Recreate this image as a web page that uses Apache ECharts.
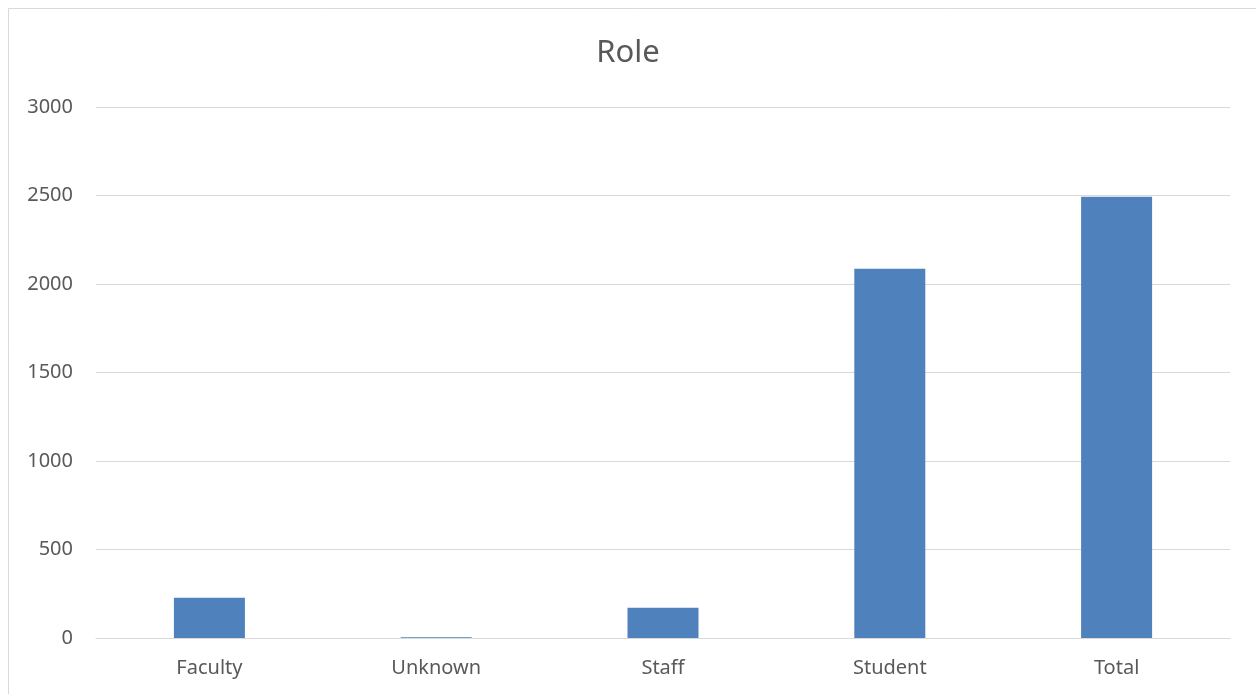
<!DOCTYPE html>
<html>
<head>
<meta charset="utf-8">
<script src="https://cdn.jsdelivr.net/npm/echarts@6/dist/echarts.min.js"></script>
<style>
html,body{margin:0;padding:0;background:#fff;}
#chart{width:1256px;height:694px;}
</style>
</head>
<body>
<div id="chart"></div>
<script>
const categories = ['Faculty', 'Unknown', 'Staff', 'Student', 'Total'];
const counts = [228, 4, 171, 2086, 2493];
const yTicks = [0, 500, 1000, 1500, 2000, 2500, 3000];

const chart = echarts.init(document.getElementById('chart'));
chart.setOption({
  animation: false,
  backgroundColor: '#ffffff',
  title: {
    text: 'Role',
    left: 'center',
    top: 33,
    textStyle: { fontFamily: 'Noto Sans', fontSize: 31, fontWeight: 'normal', color: '#595959' }
  },
  graphic: [{
    type: 'polyline',
    shape: { points: [[8.5, 700], [8.5, 8.5], [1260, 8.5]] },
    style: { stroke: '#d9d9d9', lineWidth: 1, fill: null },
    silent: true
  }],
  grid: { left: 96, right: 26, top: 107, bottom: 56 },
  xAxis: {
    type: 'category',
    data: categories,
    axisLine: { show: true, lineStyle: { color: '#d9d9d9', width: 1 } },
    axisTick: { show: false },
    axisLabel: { fontFamily: 'Noto Sans', fontSize: 20, color: '#595959', margin: 20 }
  },
  yAxis: {
    type: 'value',
    min: yTicks[0],
    max: yTicks[yTicks.length - 1],
    interval: 500,
    axisLine: { show: false },
    axisTick: { show: false },
    splitLine: { lineStyle: { color: '#d9d9d9', width: 1 } },
    axisLabel: { fontFamily: 'Noto Sans', fontSize: 20, color: '#595959', margin: 23, formatter: v => String(v) }
  },
  series: [{
    type: 'bar',
    data: counts,
    barWidth: 71,
    itemStyle: { color: '#4f81bd' }
  }]
});
</script>
</body>
</html>
